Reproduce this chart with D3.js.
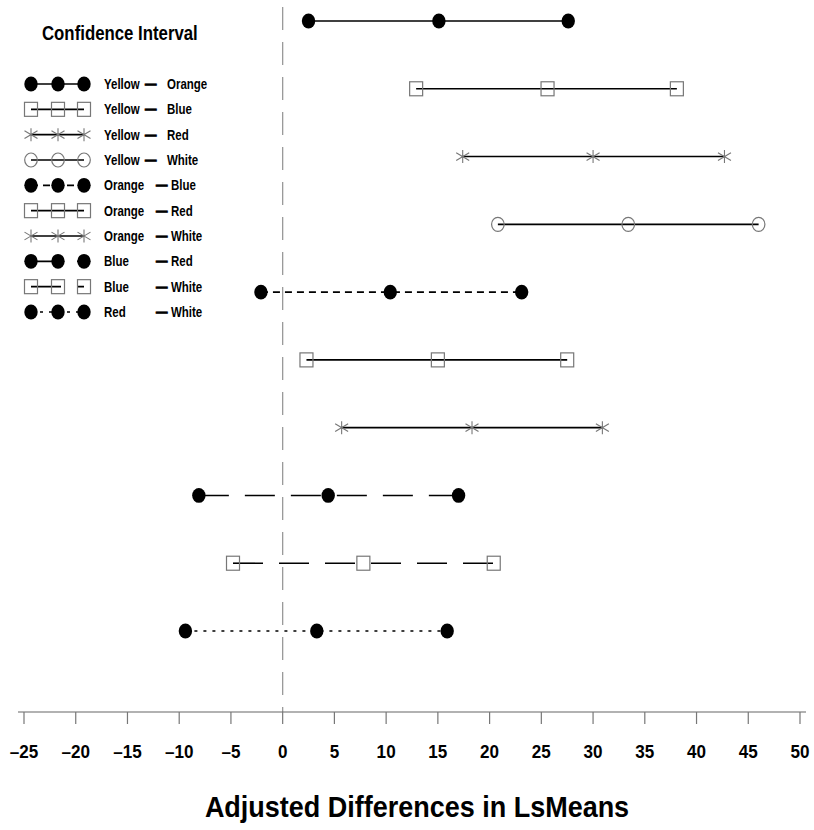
<!DOCTYPE html>
<html>
<head>
<meta charset="utf-8">
<script src="https://cdn.jsdelivr.net/npm/d3@7"></script>
<style>
  body { margin: 0; background: #fff; }
  svg { display: block; }
  text { font-family: "Liberation Sans", Arial, Helvetica, sans-serif; font-weight: bold; fill: #000; }
</style>
</head>
<body>
<div id="chart"></div>
<script>
// Pairwise comparisons (top to bottom)
var pairs = [
    ["Yellow", "Orange"], ["Yellow", "Blue"], ["Yellow", "Red"], ["Yellow", "White"],
    ["Orange", "Blue"], ["Orange", "Red"], ["Orange", "White"],
    ["Blue", "Red"], ["Blue", "White"], ["Red", "White"]
];
var lower    = [2.5, 12.9, 17.4, 20.8, -2.1, 2.3, 5.7, -8.1, -4.8, -9.4];
var estimate = [15.1, 25.6, 30.0, 33.4, 10.4, 15.0, 18.3, 4.4, 7.8, 3.3];
var upper    = [27.6, 38.1, 42.7, 46.0, 23.1, 27.5, 30.9, 17.0, 20.4, 15.9];
var symbols  = ["dot", "square", "star", "circle", "dot", "square", "star", "dot", "square", "dot"];
var lineTypes = ["solid", "solid", "solid", "solid", "dash", "solid", "solid", "longdash", "longdash", "dot"];
var xTicks = d3.range(-25, 51, 5);

var width = 814, height = 830;
var dashes = { solid: null, dash: "7,5", longdash: "30,16", dot: "3,6" };

var svg = d3.select("#chart").append("svg")
    .attr("width", width)
    .attr("height", height);

var x = d3.scaleLinear().domain([-25, 50]).range([24, 800]);
var y = d3.scalePoint().domain(d3.range(pairs.length)).range([21, 631]);
var axisY = 712;

// condensed bold text (the original font is a narrow Helvetica)
function addText(g, tx, ty, size, sx, str, anchor) {
    return g.append("text")
        .attr("transform", "translate(" + tx + "," + ty + ") scale(" + sx + ",1)")
        .attr("text-anchor", anchor || "start")
        .style("font-size", size + "px")
        .text(str);
}

// reference line at zero
svg.append("line")
    .attr("x1", x(0)).attr("x2", x(0))
    .attr("y1", 7).attr("y2", axisY)
    .style("stroke", "#999")
    .style("stroke-width", 1.3)
    .style("stroke-dasharray", "23,12");

// draws one marker of the given kind at (cx, cy)
function marker(g, kind, cx, cy) {
    if (kind == "dot") {
        g.append("ellipse").attr("cx", cx).attr("cy", cy)
            .attr("rx", 6.7).attr("ry", 7.4).style("fill", "#000");
    } else if (kind == "square") {
        g.append("rect").attr("x", cx - 6.5).attr("y", cy - 7)
            .attr("width", 13).attr("height", 14)
            .style("fill", "none").style("stroke", "#777").style("stroke-width", 1.2);
    } else if (kind == "circle") {
        g.append("ellipse").attr("cx", cx).attr("cy", cy)
            .attr("rx", 6.3).attr("ry", 7)
            .style("fill", "none").style("stroke", "#777").style("stroke-width", 1.2);
    } else if (kind == "star") {
        var s = 6.5;
        g.append("path")
            .attr("d", "M" + cx + "," + (cy - s) + "L" + cx + "," + (cy + s) +
                "M" + (cx - s) + "," + (cy - s * 0.6) + "L" + (cx + s) + "," + (cy + s * 0.6) +
                "M" + (cx - s) + "," + (cy + s * 0.6) + "L" + (cx + s) + "," + (cy - s * 0.6))
            .style("fill", "none").style("stroke", "#777").style("stroke-width", 1.1);
    }
}

// interval rows
var rows = svg.selectAll(".row")
    .data(pairs)
  .enter().append("g")
    .attr("class", "row");

rows.each(function(d, i) {
    var g = d3.select(this);
    var cy = y(i);
    g.append("line")
        .attr("x1", x(lower[i])).attr("x2", x(upper[i]))
        .attr("y1", cy).attr("y2", cy)
        .style("stroke", "#000")
        .style("stroke-width", 1.6)
        .style("stroke-dasharray", dashes[lineTypes[i]]);
    [lower[i], estimate[i], upper[i]].forEach(function(v) {
        marker(g, symbols[i], x(v), cy);
    });
});

// x axis
var axis = svg.append("g");
axis.append("line")
    .attr("x1", 18).attr("x2", 806)
    .attr("y1", axisY).attr("y2", axisY)
    .style("stroke", "#666").style("stroke-width", 1.2);
axis.selectAll(".tick")
    .data(xTicks)
  .enter().append("line")
    .attr("x1", function(d) { return x(d); })
    .attr("x2", function(d) { return x(d); })
    .attr("y1", axisY).attr("y2", axisY + 12)
    .style("stroke", "#777").style("stroke-width", 1.2);
xTicks.forEach(function(d) {
    addText(axis, x(d), 758, 18, 0.95, d < 0 ? "\u2013" + Math.abs(d) : String(d), "middle");
});

addText(svg, 417, 817, 30, 0.9, "Adjusted Differences in LsMeans", "middle");

// legend
var legend = svg.append("g");
addText(legend, 42, 40, 20, 0.84, "Confidence Interval");

var ly = d3.scalePoint().domain(d3.range(pairs.length)).range([84, 312]);
var symX = [31, 58, 84];

var items = legend.selectAll(".item")
    .data(pairs)
  .enter().append("g")
    .attr("class", "item");

items.each(function(d, i) {
    var g = d3.select(this);
    var cy = ly(i);
    g.append("line")
        .attr("x1", symX[0]).attr("x2", symX[2])
        .attr("y1", cy).attr("y2", cy)
        .style("stroke", "#000").style("stroke-width", 1.6)
        .style("stroke-dasharray", dashes[lineTypes[i]]);
    symX.forEach(function(sx) { marker(g, symbols[i], sx, cy); });

    // padded labels: "Yellow" rows sit a little tighter than the rest
    var yellow = d[0] == "Yellow";
    addText(g, 104, cy + 5, 14, 0.82, d[0]);
    addText(g, yellow ? 145 : 156, cy + 5, 14, 0.82, "\u2014")
        .style("stroke", "#000").style("stroke-width", 0.9);
    addText(g, yellow ? 167 : 171, cy + 5, 14, 0.82, d[1]);
});
</script>
</body>
</html>
